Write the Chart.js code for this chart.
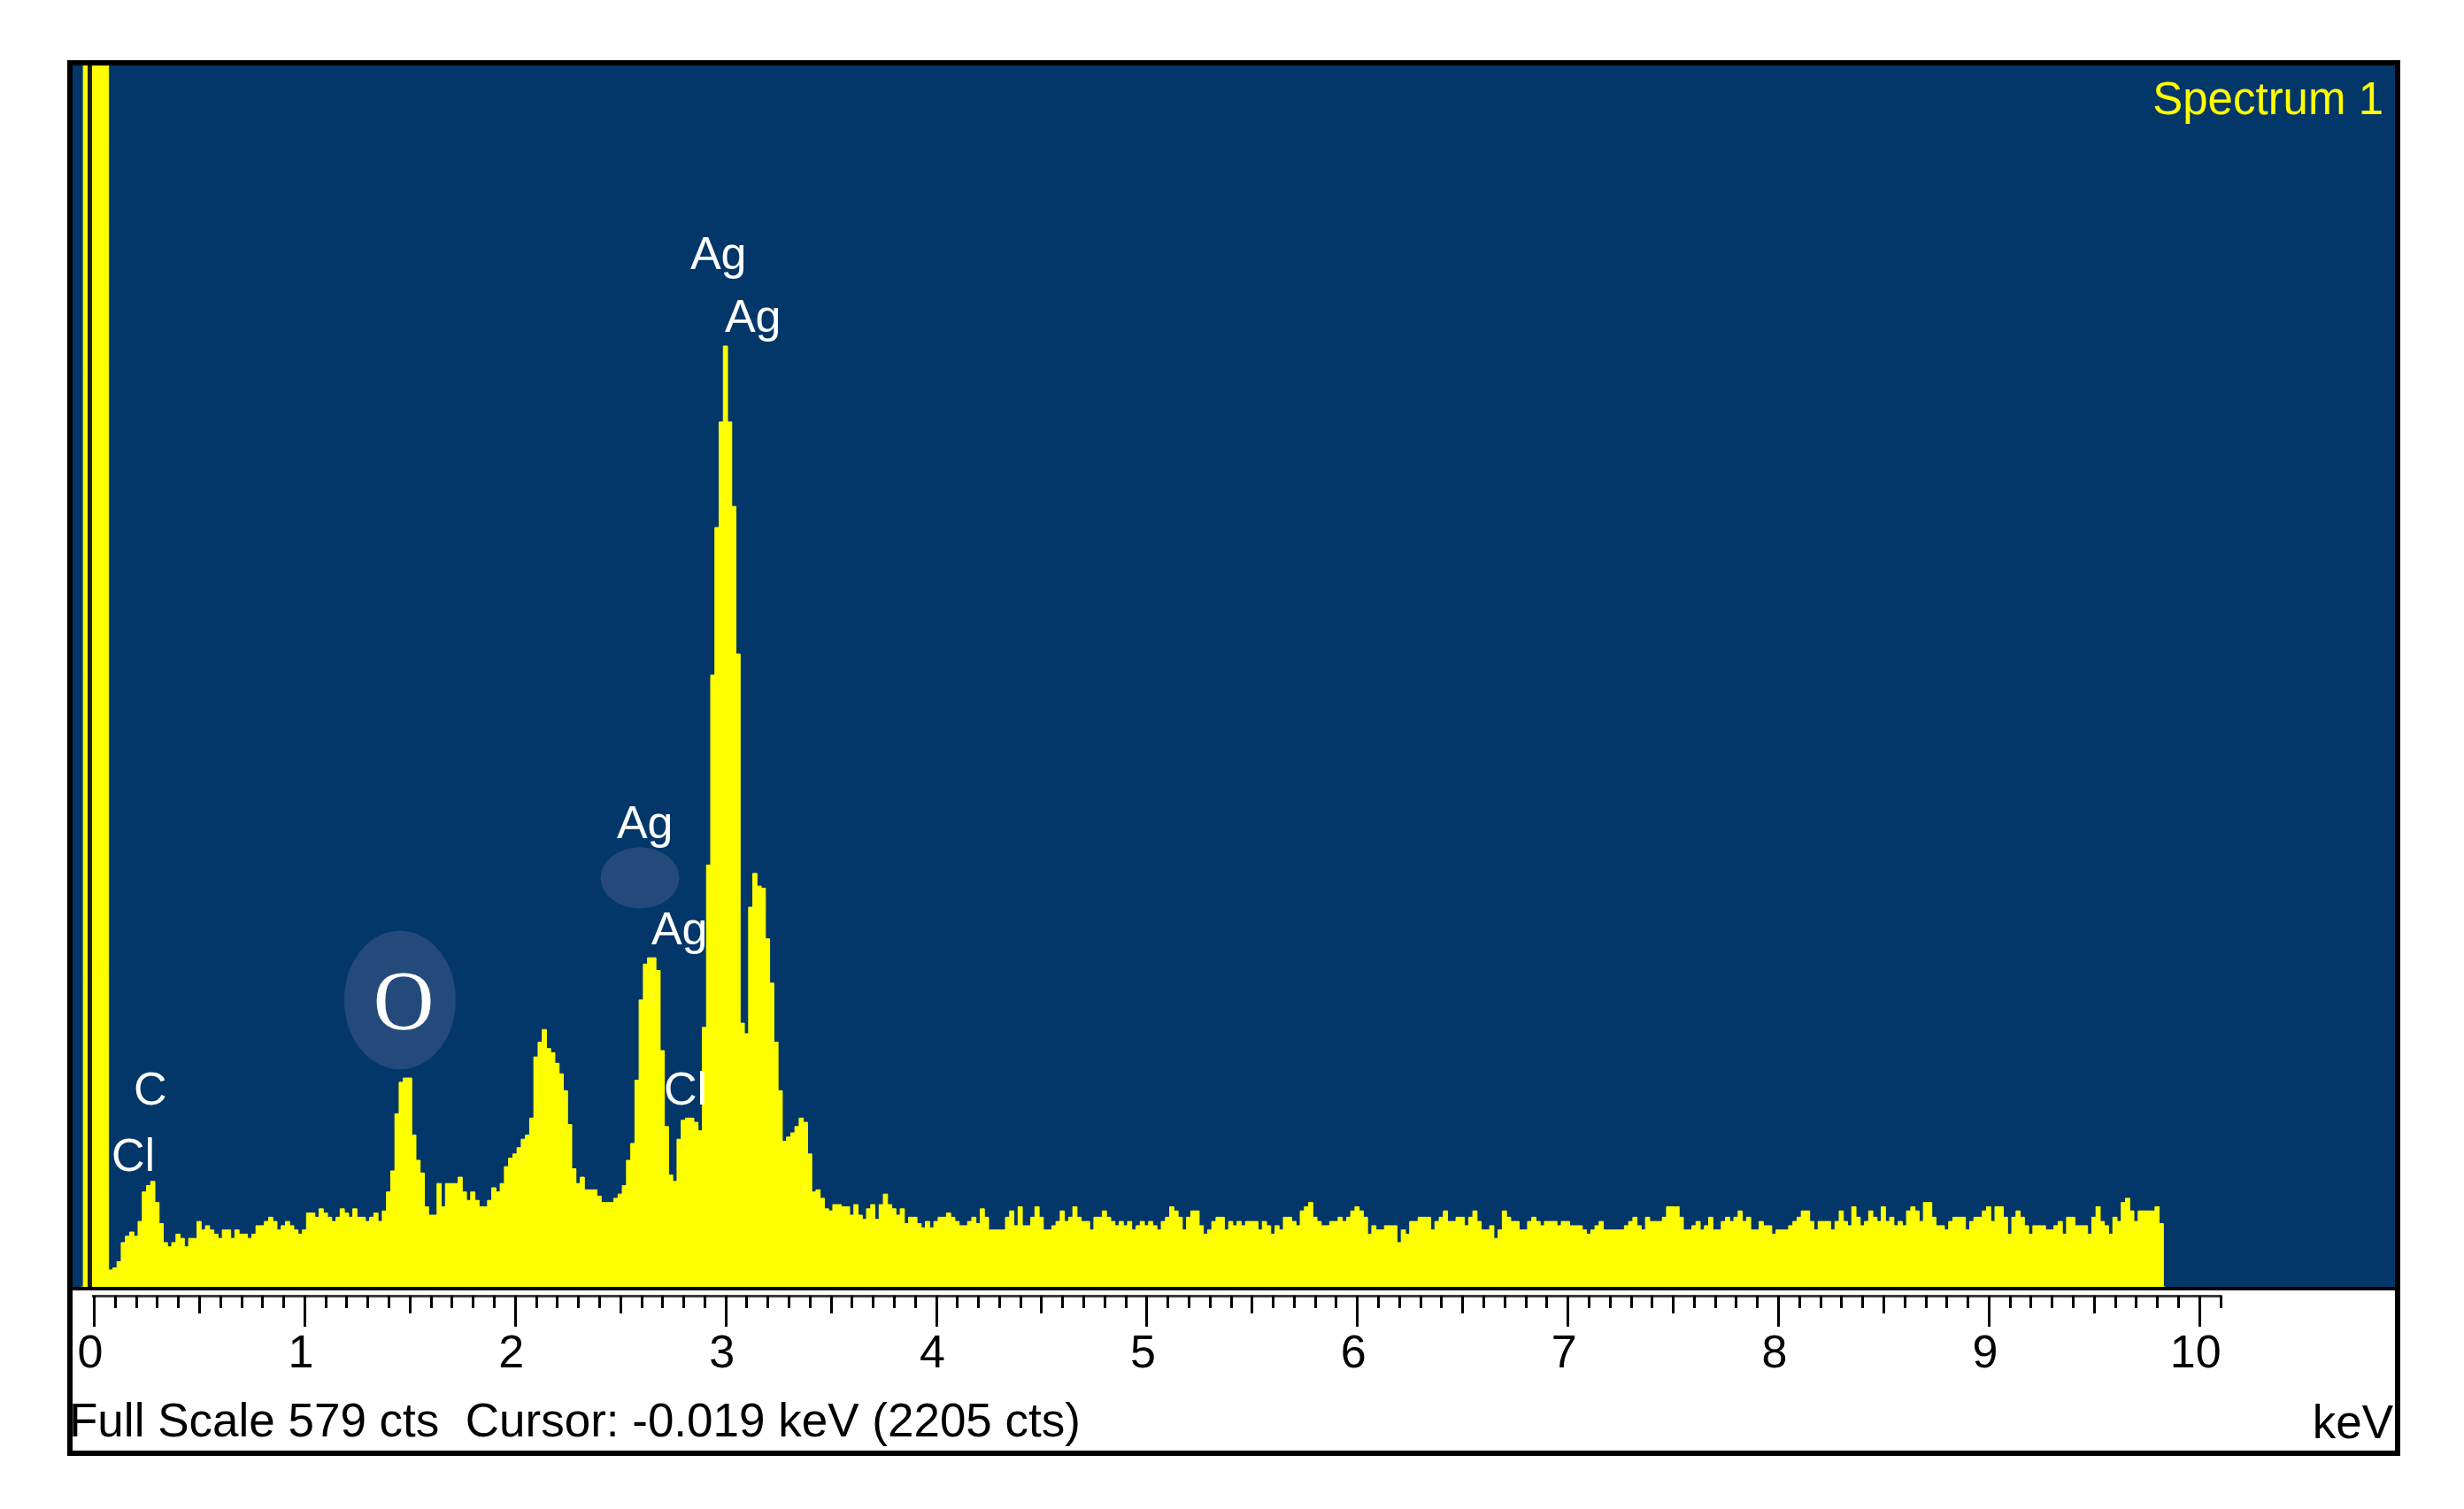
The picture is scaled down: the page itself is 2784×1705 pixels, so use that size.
<!DOCTYPE html>
<html>
<head>
<meta charset="utf-8">
<script src="https://cdn.jsdelivr.net/npm/chart.js@4.4.1/dist/chart.umd.min.js"></script>
<style>
  html, body { margin: 0; padding: 0; background: #ffffff; }
  #c { display: block; }
</style>
</head>
<body>
<canvas id="c" width="2784" height="1705"></canvas>
<script>
// ---------------- DATA ----------------
const keVStep = 0.02;          // channel width
const firstKeV = -0.06;        // energy of first channel in ctsLow
// counts per channel, -0.06 .. 0.98 keV (zero peak runs off scale)
const ctsLow = [0,1400,2205,2600,2500,1800,900,8,
  9,12,21,24,26,24,31,45,48,50,
  40,30,21,19,21,25,23,19,23,23,
  31,27,29,27,25,23,27,27,23,27,
  25,25,23,25,29,29,31,33,31,27,
  29,31,29,27,25];
// 1.00 .. 1.98 keV
const cts1 = [27,35,35,33,37,35,33,31,33,37, 35,33,37,33,33,31,33,35,31,36,
  45,55,82,97,99,99,72,60,54,38, 34,34,49,38,49,49,49,52,45,41,
  45,41,38,38,41,47,45,49,57,61];
// 2.00 .. 2.98 keV
const cts2 = [63,66,70,72,80,109,116,122,113,111, 106,101,93,77,56,49,52,46,46,46,
  43,40,40,40,42,44,48,60,68,98, 136,153,156,156,150,112,76,53,50,70,
  79,80,80,78,74,123,200,290,360,410];
// 3.00 .. 3.98 keV
const cts3 = [446,410,370,300,125,120,180,196,190,189, 165,144,116,93,69,71,73,76,80,78,
  63,45,46,42,37,36,39,39,38,38, 34,39,34,32,37,39,32,39,44,39,
  37,34,37,30,33,33,30,28,31,28];
// 4.00 .. 4.98 keV
const cts4 = [31,33,33,35,33,31,29,29,31,33, 30,37,33,27,27,27,27,33,36,29,
  38,29,29,33,38,33,27,27,29,31, 36,31,33,38,33,31,31,27,33,33,
  36,33,31,29,31,29,31,27,29,31];
// 5.00 .. 5.98 keV
const cts5 = [29,31,29,27,31,33,38,36,33,27, 33,36,36,29,25,27,31,33,33,27,
  31,29,31,29,31,31,31,27,31,29, 25,29,27,33,33,31,29,36,38,40,
  33,31,29,29,31,31,33,31,33,36];
// 6.00 .. 6.98 keV
const cts6 = [38,36,33,25,29,27,27,29,29,29, 21,27,25,31,31,33,33,33,27,31,
  33,36,31,31,33,33,29,33,36,31, 27,27,29,23,27,36,33,31,31,27,
  27,31,33,31,29,31,31,31,29,31];
// 7.00 .. 7.98 keV
const cts7 = [31,29,29,29,27,25,27,29,31,27, 27,27,27,27,29,31,33,29,27,33,
  31,31,31,33,38,38,38,33,27,27, 29,31,27,29,33,27,27,31,33,31,
  33,36,31,33,27,27,31,29,29,25];
// 8.00 .. 8.98 keV
const cts8 = [27,27,27,29,31,33,36,36,31,27, 31,31,31,27,31,36,31,29,38,33,
  29,31,36,33,31,38,31,33,29,31, 29,36,38,36,31,40,40,33,29,29,
  27,31,33,33,33,27,31,33,33,36];
// 9.00 .. 9.84 keV
const cts9 = [38,31,38,38,33,25,33,36,33,29, 25,29,29,29,27,27,29,31,25,33,
  33,29,29,29,25,33,38,31,29,25, 33,31,40,42,36,31,36,36,36,36,
  38,30,0];

const tickKeV = [0,1,2,3,4,5,6,7,8,9,10];
const fullScale = 579;
const cursorKeV = -0.019;
const cursorCts = 2205;
const spectrumName = 'Spectrum 1';
const axisUnit = 'keV';

// element labels anchored in data units (keV, counts at text baseline)
const peakLabels = [
  { text: 'Ag', keV: 2.833, cts: 482.6 },
  { text: 'Ag', keV: 2.997, cts: 452.8 },
  { text: 'Ag', keV: 2.484, cts: 212.8 },
  { text: 'Ag', keV: 2.648, cts: 162.4 },
  { text: 'C',  keV: 0.189, cts: 86.4 },
  { text: 'Cl', keV: 0.084, cts: 55.0 },
  { text: 'Cl', keV: 2.707, cts: 86.4 }
];
// highlight ellipses (centre & radii in data units)
const highlights = [
  { keV: 1.454, cts: 136.0, rKeV: 0.265, rCts: 32.9, text: 'O', textKeV: 1.471, textCts: 122.1 },
  { keV: 2.594, cts: 193.9, rKeV: 0.187, rCts: 14.5, text: '' }
];

// ---------------- STYLE ----------------
const plotBlue = '#03376a';
const ellipseBlue = '#244a7b';
const traceYellow = '#ffff00';
const sansFont = '"Liberation Sans", Arial, sans-serif';
const serifFont = '"Liberation Serif", "Times New Roman", serif';

// ---------------- BUILD SERIES ----------------
const allCts = [].concat(ctsLow, cts1, cts2, cts3, cts4, cts5, cts6, cts7, cts8, cts9);
const spectrumPoints = allCts.map((c, i) => ({ x: Math.round((firstKeV + i * keVStep) * 100) / 100, y: c }));

const edsDecor = {
  id: 'edsDecor',
  beforeDraw(chart) {
    const { ctx, chartArea: a, width, height } = chart;
    ctx.save();
    ctx.fillStyle = '#ffffff';
    ctx.fillRect(0, 0, width, height);
    ctx.fillStyle = '#000000';
    ctx.fillRect(a.left - 6, a.top - 6, a.right - a.left + 12, (a.bottom + 191) - (a.top - 6));
    ctx.fillStyle = '#ffffff';
    ctx.fillRect(a.left, a.top, a.right - a.left, (a.bottom + 185) - a.top);
    ctx.fillStyle = plotBlue;
    ctx.fillRect(a.left, a.top, a.right - a.left, a.bottom - a.top);
    ctx.fillStyle = '#000000';
    ctx.fillRect(a.left, a.bottom, a.right - a.left, 4);
    ctx.restore();
  },
  beforeDatasetsDraw(chart) {
    const { ctx } = chart;
    const xs = chart.scales.x, ys = chart.scales.y;
    ctx.save();
    ctx.fillStyle = ellipseBlue;
    highlights.forEach(h => {
      const cx = xs.getPixelForValue(h.keV), cy = ys.getPixelForValue(h.cts);
      const rx = xs.getPixelForValue(h.keV + h.rKeV) - cx;
      const ry = ys.getPixelForValue(h.cts - h.rCts) - cy;
      ctx.beginPath();
      ctx.ellipse(cx, cy, rx, ry, 0, 0, Math.PI * 2);
      ctx.fill();
    });
    ctx.restore();
  },
  afterDatasetsDraw(chart) {
    const { ctx, chartArea: a } = chart;
    const xs = chart.scales.x, ys = chart.scales.y;
    ctx.save();
    // cursor marker
    const cxp = xs.getPixelForValue(cursorKeV);
    ctx.fillStyle = '#1e1e1e';
    ctx.fillRect(cxp - 2.5, a.top, 5, a.bottom - a.top);
    // element labels
    ctx.fillStyle = '#ffffff';
    ctx.font = '52px ' + sansFont;
    ctx.textAlign = 'left';
    ctx.textBaseline = 'alphabetic';
    peakLabels.forEach(l => {
      ctx.fillText(l.text, xs.getPixelForValue(l.keV), ys.getPixelForValue(l.cts));
    });
    // highlight text
    ctx.font = '95px ' + serifFont;
    ctx.textAlign = 'center';
    highlights.forEach(h => {
      if (h.text) ctx.fillText(h.text, xs.getPixelForValue(h.textKeV), ys.getPixelForValue(h.textCts));
    });
    // spectrum name
    ctx.fillStyle = traceYellow;
    ctx.font = '51px ' + sansFont;
    ctx.textAlign = 'right';
    ctx.fillText(spectrumName, a.right - 13, a.top + 55);
    ctx.restore();
  },
  afterDraw(chart) {
    const { ctx, chartArea: a } = chart;
    const xs = chart.scales.x;
    ctx.save();
    // ruler
    const y0 = a.bottom + 10;
    const xStart = xs.getPixelForValue(0), xEnd = xs.getPixelForValue(10.1);
    ctx.fillStyle = '#3c3c3c';
    ctx.fillRect(xStart - 2, y0 - 1, xEnd - xStart + 4, 3);
    ctx.fillStyle = '#000000';
    for (let i = 0; i <= 101; i++) {
      const px = Math.round(xs.getPixelForValue(i / 10));
      const len = (i % 10 === 0) ? 35 : (i % 5 === 0 ? 20 : 14);
      ctx.fillRect(px - 1, y0, 3, len);
    }
    // status line
    ctx.fillStyle = '#000000';
    ctx.font = '53px ' + sansFont;
    ctx.textBaseline = 'alphabetic';
    ctx.textAlign = 'left';
    ctx.fillText('Full Scale ' + fullScale + ' cts  Cursor: ' + cursorKeV.toFixed(3) + ' keV (' + cursorCts + ' cts)', a.left - 4, a.bottom + 169);
    ctx.textAlign = 'right';
    ctx.fillText(axisUnit, a.right - 2, a.bottom + 171);
    ctx.restore();
  }
};

new Chart(document.getElementById('c'), {
  type: 'line',
  data: {
    datasets: [{
      label: spectrumName,
      data: spectrumPoints,
      stepped: 'middle',
      fill: 'origin',
      backgroundColor: traceYellow,
      borderColor: traceYellow,
      borderWidth: 1,
      pointRadius: 0,
      pointHoverRadius: 0
    }]
  },
  options: {
    responsive: false,
    devicePixelRatio: 1,
    animation: false,
    events: [],
    layout: { padding: { left: 82, right: 78, top: 74, bottom: 0 } },
    plugins: { legend: { display: false }, tooltip: { enabled: false }, title: { display: false } },
    scales: {
      x: {
        type: 'linear',
        position: 'bottom',
        min: -0.101,
        max: 10.93,
        afterBuildTicks: (scale) => { scale.ticks = tickKeV.map(v => ({ value: v })); },
        afterFit: (scale) => { scale.height = 251; },
        grid: { display: false, drawTicks: false, tickLength: 0 },
        border: { display: false },
        ticks: {
          autoSkip: false,
          maxRotation: 0,
          minRotation: 0,
          padding: 45,
          labelOffset: -4,
          color: '#000000',
          font: { family: sansFont, size: 52 },
          callback: (v) => String(v)
        }
      },
      y: {
        type: 'linear',
        display: false,
        min: 0,
        max: fullScale
      }
    }
  },
  plugins: [edsDecor]
});
</script>
</body>
</html>
